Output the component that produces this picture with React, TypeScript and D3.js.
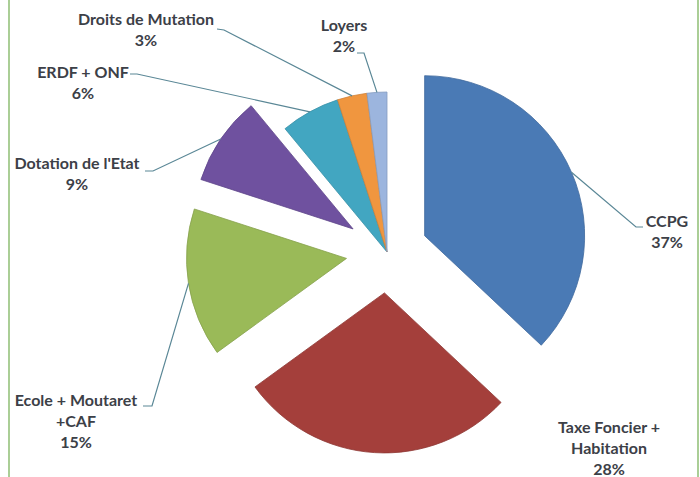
import * as d3 from 'd3'

// Recettes (%)
const categories = [
  'CCPG',
  'Taxe Foncier + Habitation',
  'Ecole + Moutaret +CAF',
  "Dotation de l'Etat",
  'ERDF + ONF',
  'Droits de Mutation',
  'Loyers',
]
const values = [37, 28, 15, 9, 6, 3, 2]
const labelLines = [
  ['CCPG'],
  ['Taxe Foncier +', 'Habitation'],
  ['Ecole + Moutaret', '+CAF'],
  ["Dotation de l'Etat"],
  ['ERDF + ONF'],
  ['Droits de Mutation'],
  ['Loyers'],
]
const colors = ['#4a7ab5', '#a43f3b', '#9aba58', '#6f519f', '#42a6c1', '#f0963f', '#9cb5de']
const exploded = [true, true, true, true, false, false, false]

const width = 700
const height = 477
const cx = 387
const cy = 252
const radius = 160
const explodeDist = 41

// label placement (text centre x, first line y) and leader path tail, in px
const labelLayout: { x: number; y: number; leader: [number, number][] | null }[] = [
  { x: 667, y: 221, leader: [[643, 227], [636, 227]] },
  { x: 609, y: 427, leader: null },
  { x: 76, y: 400, leader: [[143, 406], [152, 406]] },
  { x: 77, y: 163, leader: [[145, 171], [153, 171]] },
  { x: 83, y: 72, leader: [[130, 74], [137, 74]] },
  { x: 146, y: 19, leader: [[217, 29], [224, 30]] },
  { x: 344, y: 25, leader: [[357, 53], [364, 53]] },
]

export default function App() {
  const pie = d3.pie<number>().sort(null).value(d => d)
  const arcs = pie(values)
  const arc = d3.arc<d3.PieArcDatum<number>>().innerRadius(0).outerRadius(radius)
  const lineGen = d3.line()

  return (
    <div style={{ position: 'fixed', left: 0, top: 0 }}>
      <svg width={width} height={height} style={{ display: 'block', background: '#fff' }}>
        <line x1={9} x2={9} y1={0} y2={height} stroke="#72ad50" strokeWidth={1.2} />
        <line x1={698} x2={698} y1={0} y2={height} stroke="#72ad50" strokeWidth={1.2} />

        {arcs.map((a, i) => {
          const mid = (a.startAngle + a.endAngle) / 2
          const off = exploded[i] ? explodeDist : 0
          const ox = cx + off * Math.sin(mid)
          const oy = cy - off * Math.cos(mid)
          return (
            <path
              key={categories[i]}
              d={arc(a) || ''}
              transform={`translate(${ox},${oy})`}
              fill={colors[i]}
              stroke={d3.color(colors[i])!.darker(0.4).toString()}
              strokeWidth={0.8}
            />
          )
        })}

        {arcs.map((a, i) => {
          const lay = labelLayout[i]
          if (!lay.leader) return null
          const mid = (a.startAngle + a.endAngle) / 2
          const off = exploded[i] ? explodeDist : 0
          const sx = cx + (off + radius) * Math.sin(mid)
          const sy = cy - (off + radius) * Math.cos(mid)
          const pts: [number, number][] = [...lay.leader, [sx, sy]]
          return (
            <path key={'l' + i} d={lineGen(pts) || ''} fill="none" stroke="#5a8796" strokeWidth={1.2} />
          )
        })}

        {categories.map((c, i) => {
          const lay = labelLayout[i]
          const lines = [...labelLines[i], `${values[i]}%`]
          return (
            <text
              key={'t' + c}
              x={lay.x}
              y={lay.y}
              textAnchor="middle"
              fontFamily="Lato, 'Open Sans', sans-serif"
              fontWeight={700}
              fontSize={16}
              fill="#3c4047"
            >
              {lines.map((ln, j) => (
                <tspan key={j} x={lay.x} y={lay.y + j * 21} dy="0.35em">
                  {ln}
                </tspan>
              ))}
            </text>
          )
        })}
      </svg>
    </div>
  )
}
